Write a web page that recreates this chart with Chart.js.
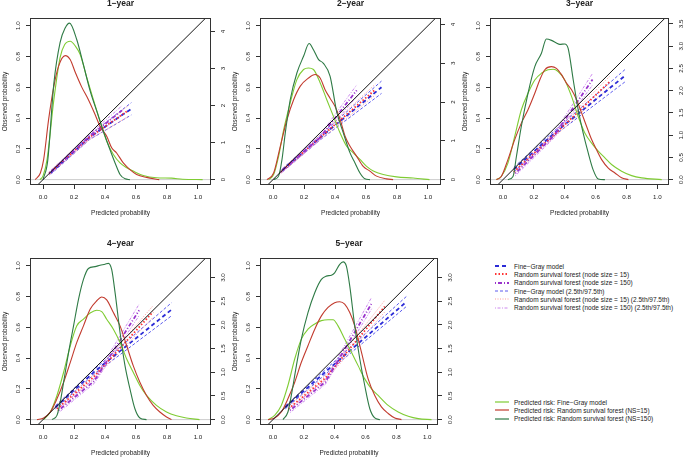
<!DOCTYPE html>
<html>
<head>
<meta charset="utf-8">
<script src="https://cdn.jsdelivr.net/npm/chart.js@4.4.1/dist/chart.umd.min.js"></script>
<style>
body { margin: 0; background: #fff; width: 685px; height: 457px; overflow: hidden; position: relative; font-family: "Liberation Sans", Arial, sans-serif; }
canvas { position: absolute; }
.legend { position: absolute; left: 495px; font-size: 6.5px; color: #222; }
.legend div { display: flex; align-items: center; height: 8.3px; white-space: nowrap; }
.legend svg { margin-right: 5px; flex: none; }
</style>
</head>
<body>
<div id="legendTop" class="legend" style="top:262px"></div>
<div id="legendBottom" class="legend" style="top:398px"></div>
<script>
// panels
const panelTitles = ['1−year', '2−year', '3−year', '4−year', '5−year'];
const probTicks = [0, 0.2, 0.4, 0.6, 0.8, 1.0];
const densityTicks = [
    [0, 1, 2, 3, 4],
    [0, 1, 2, 3, 4],
    [0, 0.5, 1, 1.5, 2, 2.5, 3, 3.5],
    [0, 0.5, 1, 1.5, 2, 2.5, 3],
    [0, 0.5, 1, 1.5, 2, 2.5, 3]
];

// reference lines
const diagLine = [[-0.2, -0.2], [1.2, 1.2]];
const zeroLine = [[-0.2, 0], [1.2, 0]];

// density of predicted risk, [x, density] per panel
const densFG = [
    [[-0.02, 0], [0.0, 0.1], [0.026, 0.54], [0.07, 2.16], [0.11, 3.3], [0.14, 3.65], [0.176, 3.74], [0.21, 3.6], [0.24, 3.38], [0.283, 2.75], [0.325, 2.16], [0.368, 1.58], [0.411, 1.04], [0.454, 0.68], [0.497, 0.45], [0.54, 0.32], [0.582, 0.23], [0.647, 0.11], [0.732, 0.05], [0.83, 0.04], [0.9, 0.01], [1.03, 0]],
    [[-0.028, 0], [0.004, 0.13], [0.036, 0.6], [0.069, 1.29], [0.111, 1.98], [0.154, 2.58], [0.197, 2.84], [0.229, 2.88], [0.261, 2.84], [0.304, 2.5], [0.347, 2.06], [0.39, 1.63], [0.433, 1.2], [0.475, 0.86], [0.518, 0.69], [0.561, 0.52], [0.604, 0.34], [0.647, 0.22], [0.711, 0.13], [0.797, 0.07], [0.904, 0.04], [1.01, 0]],
    [[-0.043, 0], [-0.011, 0.07], [0.032, 0.37], [0.076, 0.97], [0.119, 1.57], [0.162, 1.94], [0.206, 2.24], [0.249, 2.39], [0.292, 2.47], [0.325, 2.48], [0.357, 2.43], [0.4, 2.24], [0.444, 1.87], [0.487, 1.42], [0.53, 1.05], [0.574, 0.82], [0.617, 0.64], [0.66, 0.49], [0.703, 0.34], [0.768, 0.19], [0.833, 0.09], [0.898, 0.04], [1.028, 0]],
    [[0.004, 0], [0.047, 0.16], [0.09, 0.51], [0.133, 1.0], [0.176, 1.56], [0.218, 1.98], [0.261, 2.12], [0.304, 2.25], [0.347, 2.31], [0.379, 2.28], [0.411, 2.12], [0.454, 1.91], [0.497, 1.63], [0.54, 1.28], [0.582, 1.0], [0.625, 0.72], [0.668, 0.51], [0.732, 0.3], [0.797, 0.16], [0.861, 0.08], [0.925, 0.035], [1.01, 0]],
    [[-0.032, 0], [0.011, 0.09], [0.054, 0.3], [0.097, 0.72], [0.141, 1.28], [0.184, 1.7], [0.227, 1.91], [0.271, 2.02], [0.314, 2.09], [0.357, 2.11], [0.39, 2.11], [0.422, 1.98], [0.465, 1.7], [0.509, 1.42], [0.552, 1.14], [0.595, 0.86], [0.639, 0.65], [0.682, 0.51], [0.747, 0.3], [0.812, 0.16], [0.877, 0.07], [0.942, 0.02], [1.028, 0]]
];
const densRSF15 = [
    [[-0.05, 0], [-0.017, 0.18], [0.004, 0.54], [0.036, 1.62], [0.069, 2.5], [0.1, 3.06], [0.143, 3.35], [0.176, 3.24], [0.208, 2.9], [0.25, 2.5], [0.293, 2.16], [0.336, 1.76], [0.368, 1.44], [0.411, 1.17], [0.443, 0.86], [0.475, 0.72], [0.518, 0.45], [0.561, 0.27], [0.604, 0.14], [0.668, 0.06], [0.75, 0]],
    [[-0.039, 0], [0.004, 0.17], [0.047, 0.86], [0.09, 1.55], [0.133, 2.06], [0.176, 2.41], [0.229, 2.62], [0.272, 2.71], [0.304, 2.62], [0.336, 2.32], [0.368, 2.1], [0.4, 1.89], [0.433, 1.55], [0.465, 1.12], [0.497, 0.86], [0.54, 0.6], [0.582, 0.34], [0.625, 0.22], [0.668, 0.09], [0.732, 0.02], [0.775, 0]],
    [[-0.043, 0], [-0.011, 0.07], [0.032, 0.45], [0.076, 0.9], [0.119, 1.27], [0.162, 1.57], [0.206, 1.94], [0.238, 2.24], [0.271, 2.47], [0.314, 2.54], [0.346, 2.5], [0.379, 2.36], [0.411, 2.17], [0.444, 2.02], [0.476, 1.8], [0.509, 1.5], [0.541, 1.2], [0.574, 0.9], [0.606, 0.67], [0.639, 0.45], [0.682, 0.26], [0.725, 0.15], [0.768, 0.04], [0.812, 0]],
    [[-0.039, 0], [0.004, 0.035], [0.047, 0.16], [0.09, 0.44], [0.133, 0.79], [0.176, 1.21], [0.218, 1.63], [0.261, 1.98], [0.304, 2.33], [0.347, 2.51], [0.379, 2.59], [0.411, 2.53], [0.454, 2.26], [0.497, 1.98], [0.54, 1.56], [0.582, 1.14], [0.625, 0.79], [0.668, 0.51], [0.711, 0.3], [0.754, 0.16], [0.797, 0.056], [0.829, 0]],
    [[-0.032, 0], [0.011, 0.035], [0.054, 0.16], [0.097, 0.44], [0.141, 0.79], [0.184, 1.21], [0.227, 1.56], [0.271, 1.91], [0.314, 2.19], [0.357, 2.37], [0.4, 2.47], [0.433, 2.49], [0.465, 2.44], [0.498, 2.26], [0.53, 1.98], [0.574, 1.42], [0.617, 0.86], [0.66, 0.51], [0.703, 0.27], [0.747, 0.13], [0.79, 0.035], [0.833, 0]]
];
const densRSF150 = [
    [[0.0, 0], [0.03, 0.5], [0.07, 2.6], [0.11, 3.7], [0.143, 4.1], [0.171, 4.23], [0.218, 3.78], [0.261, 3.1], [0.304, 2.4], [0.347, 1.85], [0.39, 1.3], [0.433, 0.8], [0.465, 0.45], [0.497, 0.14], [0.53, 0.02], [0.56, 0]],
    [[0.004, 0], [0.036, 0.09], [0.058, 0.52], [0.079, 1.2], [0.111, 2.06], [0.154, 2.75], [0.197, 3.18], [0.233, 3.51], [0.261, 3.35], [0.293, 3.1], [0.325, 3.0], [0.368, 2.67], [0.411, 1.75], [0.454, 1.2], [0.497, 0.69], [0.529, 0.43], [0.561, 0.17], [0.593, 0.02], [0.625, 0]],
    [[0.032, 0], [0.065, 0.07], [0.087, 0.52], [0.119, 1.2], [0.162, 1.94], [0.206, 2.54], [0.249, 2.84], [0.281, 3.16], [0.314, 3.13], [0.346, 3.07], [0.368, 3.04], [0.4, 3.05], [0.422, 2.95], [0.455, 2.24], [0.487, 1.57], [0.519, 1.05], [0.552, 0.6], [0.584, 0.22], [0.617, 0.015], [0.66, 0]],
    [[0.058, 0], [0.09, 0.09], [0.111, 0.37], [0.133, 0.79], [0.165, 1.42], [0.197, 1.98], [0.229, 2.54], [0.261, 2.96], [0.293, 3.19], [0.336, 3.23], [0.368, 3.26], [0.4, 3.28], [0.422, 3.3], [0.443, 3.17], [0.465, 2.68], [0.497, 1.84], [0.529, 1.14], [0.561, 0.65], [0.593, 0.23], [0.625, 0.035], [0.668, 0]],
    [[0.065, 0], [0.097, 0.16], [0.119, 0.51], [0.152, 1.14], [0.184, 1.7], [0.227, 2.26], [0.271, 2.68], [0.314, 2.96], [0.346, 3.03], [0.379, 3.05], [0.4, 3.1], [0.433, 3.28], [0.455, 3.33], [0.476, 3.24], [0.498, 2.82], [0.53, 1.98], [0.563, 1.28], [0.595, 0.72], [0.628, 0.23], [0.66, 0.035], [0.693, 0]]
];

// calibration curves: predicted (x) vs observed, with 2.5th/97.5th bounds
const fgX    = [[0.05, 0.3, 0.57], [0.06, 0.3, 0.70], [0.07, 0.33, 0.79], [0.08, 0.33, 0.83], [0.08, 0.34, 0.865]];
const fgMid  = [[0.045, 0.275, 0.46], [0.06, 0.27, 0.60], [0.065, 0.3, 0.675], [0.08, 0.31, 0.715], [0.08, 0.31, 0.765]];
const fgLo   = [[0.035, 0.26, 0.42], [0.05, 0.255, 0.56], [0.05, 0.285, 0.635], [0.07, 0.295, 0.675], [0.07, 0.295, 0.735]];
const fgHi   = [[0.055, 0.29, 0.50], [0.07, 0.285, 0.64], [0.08, 0.315, 0.715], [0.09, 0.325, 0.76], [0.09, 0.325, 0.80]];
const rsf15X   = [[0.04, 0.3, 0.55], [0.05, 0.3, 0.66], [0.07, 0.33, 0.69], [0.09, 0.33, 0.71], [0.1, 0.34, 0.725]];
const rsf15Mid = [[0.04, 0.275, 0.45], [0.05, 0.27, 0.585], [0.05, 0.29, 0.635], [0.07, 0.28, 0.70], [0.07, 0.27, 0.735]];
const rsf15Lo  = [[0.03, 0.26, 0.41], [0.04, 0.255, 0.55], [0.035, 0.275, 0.60], [0.055, 0.265, 0.665], [0.055, 0.255, 0.70]];
const rsf15Hi  = [[0.05, 0.29, 0.48], [0.06, 0.285, 0.62], [0.065, 0.305, 0.67], [0.085, 0.295, 0.74], [0.085, 0.285, 0.775]];
const rsf150X   = [[0.04, 0.3, 0.51], [0.05, 0.3, 0.54], [0.08, 0.33, 0.58], [0.1, 0.33, 0.62], [0.11, 0.34, 0.64]];
const rsf150Mid = [[0.04, 0.28, 0.45], [0.05, 0.27, 0.58], [0.04, 0.285, 0.65], [0.06, 0.25, 0.71], [0.06, 0.245, 0.755]];
const rsf150Lo  = [[0.03, 0.265, 0.42], [0.04, 0.255, 0.54], [0.025, 0.27, 0.615], [0.045, 0.235, 0.675], [0.045, 0.23, 0.72]];
const rsf150Hi  = [[0.05, 0.295, 0.48], [0.06, 0.285, 0.615], [0.055, 0.30, 0.69], [0.075, 0.265, 0.75], [0.075, 0.26, 0.795]];

// legend texts
const legendTopLabels = [
    'Fine−Gray model',
    'Random survival forest (node size = 15)',
    'Random survival forest (node size = 150)',
    'Fine−Gray model (2.5th/97.5th)',
    'Random survival forest (node size = 15) (2.5th/97.5th)',
    'Random survival forest (node size = 150) (2.5th/97.5th)'
];
const legendBottomLabels = [
    'Predicted risk: Fine−Gray model',
    'Predicted risk: Random survival forest (NS=15)',
    'Predicted risk: Random survival forest (NS=150)'
];

// styles
const COL = {
    fg: '#2b2bd6', fgCI: '#5a5aee',
    rsf15: '#ff3333', rsf15CI: '#ff9c9c',
    rsf150: '#9933cc', rsf150CI: '#cc88ee',
    dFG: '#7fcc33', dRSF15: '#c23b2e', dRSF150: '#2e7a45'
};
const DASH = { fg: [4, 3], rsf15: [1.5, 2], rsf150: [1, 2, 4, 2], fgCI: [3, 2], rsf15CI: [1, 1.5], rsf150CI: [1, 1.5, 3, 1.5] };

// panel placement (left, top, canvas width, right axis width, x max, density per probability unit)
const panelLayout = [
    { left: 0,   top: 0,   width: 230, right: 19, xMax: 1.084, k: 4.16 },
    { left: 230, top: 0,   width: 230, right: 19, xMax: 1.084, k: 3.97 },
    { left: 460, top: 0,   width: 225, right: 16, xMax: 1.075, k: 3.46 },
    { left: 0,   top: 240, width: 230, right: 19, xMax: 1.084, k: 3.25 },
    { left: 230, top: 240, width: 230, right: 22, xMax: 1.07,  k: 3.25 }
];
const xMin = -0.084, yMin = -0.035, yMax = 1.05;

Chart.defaults.font.family = '"Liberation Sans", Arial, sans-serif';
Chart.defaults.color = '#222';

const boxPlugin = {
    id: 'box',
    afterDatasetsDraw(chart) {
        const a = chart.chartArea, ctx = chart.ctx;
        ctx.save();
        ctx.strokeStyle = '#333';
        ctx.lineWidth = 1;
        ctx.strokeRect(Math.round(a.left) + 0.5, Math.round(a.top) + 0.5,
            Math.round(a.right - a.left) - 1, Math.round(a.bottom - a.top) - 1);
        ctx.restore();
    }
};

function pairs(arr) {
    return arr.map(p => ({ x: p[0], y: p[1] }));
}
function zip(xs, ys) {
    return xs.map((x, j) => ({ x: x, y: ys[j] }));
}
function line(data, color, width, dash, axis) {
    return {
        data: data, borderColor: color, borderWidth: width, borderDash: dash,
        yAxisID: axis || 'y', showLine: true, pointRadius: 0, fill: false
    };
}
function density(data, color) {
    const d = line(pairs(data), color, 1.1, [], 'y2');
    d.cubicInterpolationMode = 'monotone';
    return d;
}

function tickGrid() {
    return { display: true, drawOnChartArea: false, drawTicks: true, tickLength: 4, color: '#333', lineWidth: 1 };
}

panelTitles.forEach((title, i) => {
    const L = panelLayout[i];
    const canvas = document.createElement('canvas');
    canvas.width = L.width;
    canvas.height = 225;
    canvas.style.left = L.left + 'px';
    canvas.style.top = L.top + 'px';
    document.body.appendChild(canvas);

    const intTicks = densityTicks[i].every(v => Number.isInteger(v));

    const datasets = [
        line(pairs(diagLine), '#111', 1, []),
        density(densRSF150[i], COL.dRSF150),
        density(densRSF15[i], COL.dRSF15),
        density(densFG[i], COL.dFG),
        line(zip(rsf150X[i], rsf150Mid[i]), COL.rsf150, 1.8, DASH.rsf150),
        line(zip(rsf15X[i], rsf15Mid[i]), COL.rsf15, 1.8, DASH.rsf15),
        line(zip(fgX[i], fgMid[i]), COL.fg, 1.8, DASH.fg),
        line(zip(rsf150X[i], rsf150Lo[i]), COL.rsf150CI, 1, DASH.rsf150CI),
        line(zip(rsf150X[i], rsf150Hi[i]), COL.rsf150CI, 1, DASH.rsf150CI),
        line(zip(rsf15X[i], rsf15Lo[i]), COL.rsf15CI, 1, DASH.rsf15CI),
        line(zip(rsf15X[i], rsf15Hi[i]), COL.rsf15CI, 1, DASH.rsf15CI),
        line(zip(fgX[i], fgLo[i]), COL.fgCI, 1, DASH.fgCI),
        line(zip(fgX[i], fgHi[i]), COL.fgCI, 1, DASH.fgCI),
        line(pairs(zeroLine), '#cccccc', 1, [])
    ];

    new Chart(canvas, {
        type: 'scatter',
        data: { datasets: datasets },
        options: {
            responsive: false,
            animation: false,
            devicePixelRatio: 1,
            layout: { padding: 0 },
            plugins: { legend: { display: false }, tooltip: { enabled: false } },
            scales: {
                x: {
                    type: 'linear', position: 'bottom', min: xMin, max: L.xMax,
                    afterBuildTicks: s => { s.ticks = probTicks.map(v => ({ value: v })); },
                    ticks: { callback: v => v.toFixed(1), font: { size: 6.2 }, padding: 4.3, maxRotation: 0 },
                    grid: tickGrid(),
                    border: { display: false },
                    title: { display: true, text: 'Predicted probability', font: { size: 6.5 }, padding: { top: 0, bottom: 8 } },
                    afterFit: s => { s.height = 40; }
                },
                x2: {
                    type: 'linear', position: 'top', min: 0, max: 1,
                    ticks: { display: false },
                    grid: { display: false, drawTicks: false },
                    border: { display: false },
                    title: { display: true, text: title, font: { size: 8.5, weight: 'bold', lineHeight: 1 }, padding: { top: -1, bottom: 0 } },
                    afterFit: s => { s.height = 18; }
                },
                y: {
                    type: 'linear', position: 'left', min: yMin, max: yMax,
                    afterBuildTicks: s => { s.ticks = probTicks.map(v => ({ value: v })); },
                    ticks: { callback: v => v.toFixed(1), font: { size: 6.2 }, minRotation: 90, maxRotation: 90, crossAlign: 'center', padding: 3.7 },
                    grid: tickGrid(),
                    border: { display: false },
                    title: { display: true, text: 'Observed probability', font: { size: 6.5 }, padding: { top: 1.1, bottom: 0 } },
                    afterFit: s => { s.width = 30; }
                },
                y2: {
                    type: 'linear', position: 'right', min: yMin * L.k, max: yMax * L.k,
                    afterBuildTicks: s => { s.ticks = densityTicks[i].map(v => ({ value: v })); },
                    ticks: { callback: v => intTicks ? String(v) : v.toFixed(1), font: { size: 6.2 }, minRotation: 90, maxRotation: 90, crossAlign: 'center', padding: intTicks ? 6.3 : 3.7 },
                    grid: tickGrid(),
                    border: { display: false },
                    afterFit: s => { s.width = L.right; }
                }
            }
        },
        plugins: [boxPlugin]
    });
});

// legends
function legendRow(text, color, width, dash) {
    return '<div><svg width="14" height="6"><line x1="0" y1="3" x2="14" y2="3" stroke="' + color +
        '" stroke-width="' + width + '" stroke-dasharray="' + dash.join(',') + '"/></svg><span>' + text + '</span></div>';
}
const topStyles = [
    [COL.fg, 1.8, DASH.fg], [COL.rsf15, 1.8, DASH.rsf15], [COL.rsf150, 1.8, DASH.rsf150],
    [COL.fgCI, 1, DASH.fgCI], [COL.rsf15CI, 1, DASH.rsf15CI], [COL.rsf150CI, 1, DASH.rsf150CI]
];
const bottomStyles = [[COL.dFG, 1.2, []], [COL.dRSF15, 1.2, []], [COL.dRSF150, 1.2, []]];
document.getElementById('legendTop').innerHTML =
    legendTopLabels.map((t, j) => legendRow(t, topStyles[j][0], topStyles[j][1], topStyles[j][2])).join('');
document.getElementById('legendBottom').innerHTML =
    legendBottomLabels.map((t, j) => legendRow(t, bottomStyles[j][0], bottomStyles[j][1], bottomStyles[j][2])).join('');
</script>
</body>
</html>
